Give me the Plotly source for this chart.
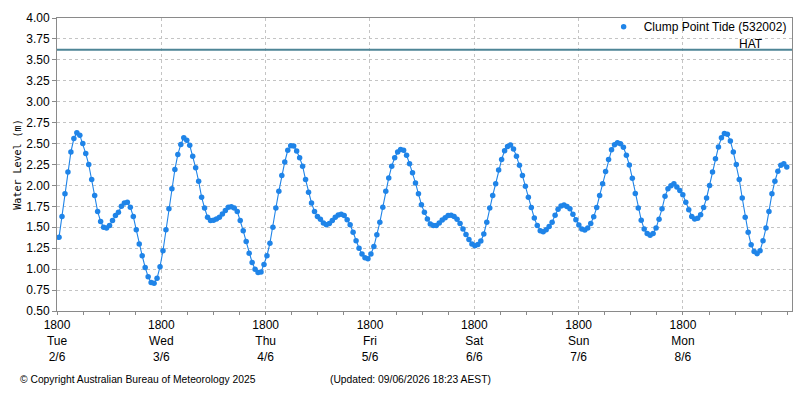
import pandas as pd
import plotly.graph_objects as go

series_name = "Clump Point Tide (532002)"
start_time = "2026-06-02 18:28"
step = "41min"
water_level = [
    1.38, 1.63, 1.90, 2.16, 2.40, 2.56, 2.63, 2.60, 2.50, 2.38,
    2.25, 2.07, 1.88, 1.69, 1.57, 1.50, 1.49, 1.52, 1.58, 1.64,
    1.68, 1.75, 1.79, 1.80, 1.74, 1.63, 1.47, 1.30, 1.16, 1.02,
    0.91, 0.84, 0.83, 0.89, 1.03, 1.22, 1.47, 1.72, 1.96, 2.19,
    2.37, 2.49, 2.57, 2.54, 2.48, 2.35, 2.21, 2.05, 1.86, 1.73,
    1.62, 1.58, 1.585, 1.60, 1.62, 1.66, 1.70, 1.74, 1.745, 1.73,
    1.69, 1.58, 1.46, 1.33, 1.19, 1.08, 1.00, 0.96, 0.965, 1.055,
    1.16, 1.31, 1.50, 1.73, 1.93, 2.12, 2.28, 2.42, 2.475, 2.47,
    2.41, 2.33, 2.23, 2.07, 1.92, 1.79, 1.69, 1.63, 1.595, 1.55,
    1.53, 1.545, 1.58, 1.62, 1.648, 1.655, 1.64, 1.59, 1.53, 1.44,
    1.34, 1.25, 1.18, 1.135, 1.125, 1.18, 1.27, 1.41, 1.56, 1.74,
    1.93, 2.09, 2.23, 2.33, 2.40, 2.43, 2.42, 2.36, 2.26, 2.15,
    2.03, 1.90, 1.77, 1.68, 1.60, 1.54, 1.52, 1.52, 1.55, 1.587,
    1.615, 1.64, 1.645, 1.63, 1.595, 1.545, 1.48, 1.415, 1.355, 1.30,
    1.28, 1.295, 1.335, 1.42, 1.56, 1.73, 1.88, 2.02, 2.185, 2.31,
    2.415, 2.465, 2.483, 2.435, 2.35, 2.24, 2.12, 1.99, 1.86, 1.735,
    1.61, 1.52, 1.46, 1.447, 1.47, 1.51, 1.56, 1.645, 1.715, 1.755,
    1.765, 1.747, 1.72, 1.655, 1.59, 1.527, 1.48, 1.467, 1.49, 1.545,
    1.625, 1.735, 1.88, 2.02, 2.165, 2.31, 2.425, 2.485, 2.51, 2.497,
    2.455, 2.36, 2.245, 2.085, 1.905, 1.73, 1.585, 1.48, 1.425, 1.405,
    1.425, 1.49, 1.595, 1.72, 1.87, 1.96, 1.995, 2.02, 1.98, 1.94,
    1.89, 1.80, 1.71, 1.63, 1.598, 1.607, 1.65, 1.735, 1.85, 2.00,
    2.16, 2.32, 2.46, 2.57, 2.62, 2.61, 2.53, 2.40, 2.25, 2.07,
    1.85, 1.62, 1.44, 1.29, 1.21, 1.185, 1.22, 1.34, 1.49, 1.69,
    1.90, 2.05, 2.17, 2.24, 2.26, 2.22,
]
hat_level = 3.62
hat_label = "HAT"

tick_times = ["2026-06-02 18:00", "2026-06-03 18:00", "2026-06-04 18:00",
              "2026-06-05 18:00", "2026-06-06 18:00", "2026-06-07 18:00",
              "2026-06-08 18:00"]
tick_hours = ["1800"] * 7
tick_days = ["Tue", "Wed", "Thu", "Fri", "Sat", "Sun", "Mon"]
tick_dates = ["2/6", "3/6", "4/6", "5/6", "6/6", "7/6", "8/6"]
x_range = ["2026-06-02 18:00", "2026-06-09 19:05"]
y_ticks = [0.50, 0.75, 1.00, 1.25, 1.50, 1.75, 2.00, 2.25, 2.50, 2.75,
           3.00, 3.25, 3.50, 3.75, 4.00]

times = pd.date_range(start=start_time, periods=len(water_level), freq=step)
tick_text = [f"{h}<br>{d}<br>{dt}" for h, d, dt in zip(tick_hours, tick_days, tick_dates)]

blue = "#1f84e8"
grid = "#c4c4c4"
axis_col = "#8a8a8a"
font_main = "Liberation Sans"

fig = go.Figure()
fig.add_trace(go.Scatter(x=times, y=water_level, mode="lines",
                         line=dict(color=blue, width=1.1),
                         showlegend=False, hoverinfo="skip"))
fig.add_trace(go.Scatter(x=times, y=water_level, mode="markers",
                         marker=dict(color=blue, size=5.5),
                         name=series_name))

fig.add_shape(type="line", xref="paper", x0=0, x1=1, yref="y",
              y0=hat_level, y1=hat_level,
              line=dict(color="#4e8596", width=2))
fig.add_annotation(text=hat_label, xref="paper", x=0.9635, xanchor="right",
                   yref="y", y=hat_level, yanchor="bottom", yshift=-3,
                   showarrow=False, font=dict(family=font_main, size=12, color="#000"))

fig.add_annotation(text="© Copyright Australian Bureau of Meteorology 2025",
                   xref="paper", yref="paper", x=-0.0525, y=-0.235,
                   xanchor="left", yanchor="middle", showarrow=False,
                   font=dict(family=font_main, size=10.3, color="#000"))
fig.add_annotation(text="(Updated: 09/06/2026 18:23 AEST)",
                   xref="paper", yref="paper", x=0.3685, y=-0.235,
                   xanchor="left", yanchor="middle", showarrow=False,
                   font=dict(family=font_main, size=10.3, color="#000"))

fig.update_layout(
    width=800, height=400,
    margin=dict(l=57, r=8, t=18, b=89),
    paper_bgcolor="white", plot_bgcolor="white",
    font=dict(family=font_main, size=12, color="#000"),
    legend=dict(x=0.9995, xanchor="right", y=1.02, yanchor="top",
                bgcolor="rgba(0,0,0,0)", font=dict(size=12),
                itemwidth=30, tracegroupgap=0),
    showlegend=True,
)
fig.update_xaxes(
    type="date", range=x_range,
    tickmode="array", tickvals=tick_times, ticktext=tick_text,
    ticks="outside", ticklen=3, tickcolor=axis_col,
    minor=dict(dtick=6 * 3600 * 1000, ticks="outside", ticklen=3,
               tickcolor=axis_col, showgrid=False),
    showgrid=True, gridcolor=grid, griddash="3px,3px", gridwidth=1,
    showline=True, linecolor=axis_col, linewidth=1, mirror=True,
    tickfont=dict(family=font_main, size=12), tickangle=0,
    zeroline=False,
)
fig.update_yaxes(
    range=[0.5, 4.0], tickmode="array", tickvals=y_ticks,
    tickformat=".2f",
    ticks="outside", ticklen=4, tickcolor=axis_col,
    showgrid=True, gridcolor=grid, griddash="3px,3px", gridwidth=1,
    showline=True, linecolor=axis_col, linewidth=1, mirror=True,
    tickfont=dict(family=font_main, size=12),
    title=dict(text="Water Level (m)", standoff=2,
               font=dict(family="DejaVu Sans Mono", size=10, color="#000")),
    zeroline=False,
)

fig.write_html("out.html")
